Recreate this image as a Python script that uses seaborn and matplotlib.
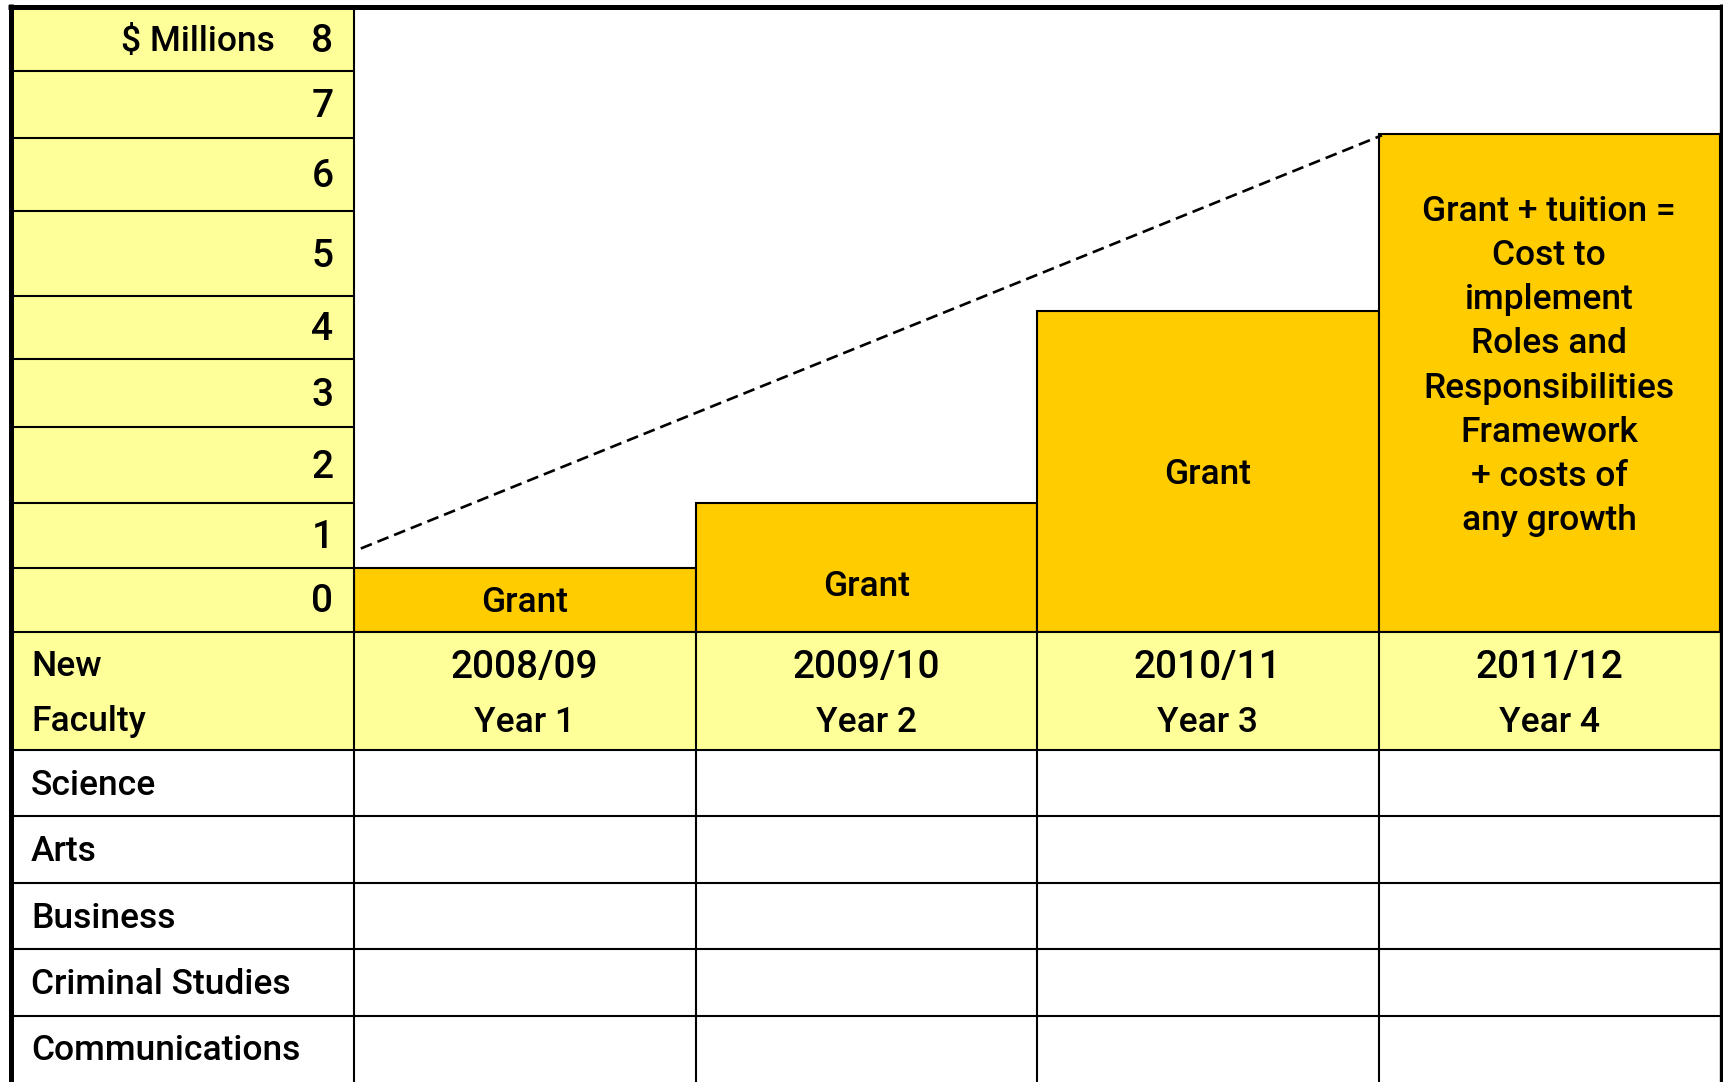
import numpy as np
import matplotlib.pyplot as plt
import seaborn as sns
from matplotlib.patches import Rectangle

# data
years = ["2008/09", "2009/10", "2010/11", "2011/12"]
year_names = ["Year 1", "Year 2", "Year 3", "Year 4"]
scale_labels = ["0", "1", "2", "3", "4", "5", "6", "7", "8"]
bar_tops = [1.0, 2.0, 4.76, 7.06]          # in rows of the $ Millions scale
bar_texts = ["Grant", "Grant", "Grant",
             "Grant + tuition =\nCost to\nimplement\nRoles and\nResponsibilities\n"
             "Framework\n+ costs of\nany growth"]
faculties = ["Science", "Arts", "Business", "Criminal Studies", "Communications"]
trend_x = [-0.48, 2.51]
trend_y = [1.30, 7.04]

LIGHT = "#FFFF99"
GOLD = "#FFCC00"
FS = 25.5
FS_NUM = 28

sns.set_theme(style="white")
plt.rcParams["font.family"] = ["Roboto", "DejaVu Sans"]
plt.rcParams["font.weight"] = "medium"
plt.rcParams["text.color"] = "black"

# layout in pixels
W, H = 1723, 1082
x_left, x_split, x_right = 12, 354, 1720
y_top, y_base, y_head = 8, 632, 750
row_px = np.array([632, 568, 503, 427, 359, 296, 211, 138, 71, 8])  # rows drawn by hand, uneven
text_px_y = [603, 587, 475, 366]
col_w = (x_right - x_split) / len(years)
col_mid = [x_split + col_w * (i + 0.5) for i in range(len(years))]
fac_h = (H - y_head) / len(faculties)
dy = 2  # matplotlib centres on the box incl. descent

rows = np.arange(len(row_px))
frac = (y_base - row_px) / (y_base - y_top)
fwd = lambda v: np.interp(v, rows, frac)
inv = lambda u: np.interp(u, frac, rows)

fig = plt.figure(figsize=(W / 100, H / 100), dpi=100)
box = [1 - y_base / H, (y_base - y_top) / H]

# bars
ax_bar = fig.add_axes([x_split / W, box[0], (x_right - x_split) / W, box[1]])
ax_bar.set_yscale("function", functions=(fwd, inv))
sns.barplot(x=years, y=bar_tops, width=1, color=GOLD, saturation=1,
            edgecolor="black", linewidth=1.5, ax=ax_bar)
ax_bar.plot(trend_x, trend_y, color="black", lw=1.9, ls=(0, (4.5, 2.3)), zorder=5)
ax_bar.set_xlim(-0.5, len(years) - 0.5)
ax_bar.set_ylim(0, 9)
ax_bar.set_axis_off()

# scale column
ax_lab = fig.add_axes([x_left / W, box[0], (x_split - x_left) / W, box[1]])
ax_lab.set_yscale("function", functions=(fwd, inv))
ax_lab.set_facecolor(LIGHT)
ax_lab.set_xlim(0, 1)
ax_lab.set_ylim(0, 9)
for k, lab in enumerate(scale_labels):
    if k > 0:
        ax_lab.axhline(k, color="black", lw=1.5)
    ax_lab.text(0.94, k + 0.47, lab, ha="right", va="center", fontsize=FS_NUM)
ax_lab.text(0.77, 8.47, "$ Millions", ha="right", va="center", fontsize=FS)
ax_lab.set_xticks([])
ax_lab.set_yticks([])
for s in ax_lab.spines.values():
    s.set_visible(False)

# table part
ax = fig.add_axes([0, 0, 1, 1], zorder=10)
ax.set_xlim(0, W)
ax.set_ylim(H, 0)
ax.set_axis_off()
ax.add_patch(Rectangle((x_left, y_base), x_right - x_left, y_head - y_base,
                       facecolor=LIGHT, edgecolor="none", zorder=1))
for y in [y_base, y_head] + [y_head + fac_h * k for k in range(1, len(faculties))]:
    ax.plot([x_left, x_right], [y, y], color="black", lw=1.5, zorder=2)
ax.plot([x_split, x_split], [y_top, H], color="black", lw=1.5, zorder=2)
for i in range(1, len(years)):
    x = x_split + col_w * i
    ax.plot([x, x], [y_base, H], color="black", lw=1.5, zorder=2)
ax.plot([10.5, 10.5], [4, H], color="black", lw=3.6, solid_capstyle="butt", zorder=3)
ax.plot([8, W], [6.5, 6.5], color="black", lw=3.6, solid_capstyle="butt", zorder=3)
ax.plot([1721, 1721], [4, H], color="black", lw=2.4, solid_capstyle="butt", zorder=3)

ax.text(31, 665 + dy, "New", ha="left", va="center", fontsize=FS)
ax.text(31, 720 + dy, "Faculty", ha="left", va="center", fontsize=FS)
for i in range(len(years)):
    ax.text(col_mid[i], 665 + dy, years[i], ha="center", va="center", fontsize=FS_NUM)
    ax.text(col_mid[i], 720 + dy, year_names[i], ha="center", va="center", fontsize=FS)
    ax.text(col_mid[i], text_px_y[i], bar_texts[i], ha="center", va="center",
            fontsize=FS, linespacing=1.43)
for k, f in enumerate(faculties):
    ax.text(31, y_head + fac_h * (k + 0.5) + dy, f, ha="left", va="center", fontsize=FS)

fig.savefig("out.png", dpi=100)
